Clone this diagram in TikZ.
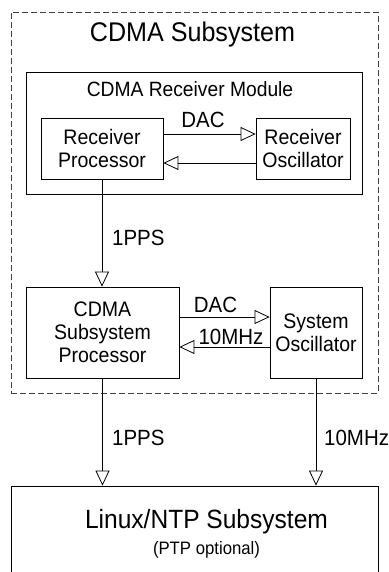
\documentclass[tikz,border=0pt]{standalone}
\usepackage{fontspec}
\setmainfont[FakeStretch=0.93]{Liberation Sans}
\usetikzlibrary{arrows.meta}
\begin{document}
\begin{tikzpicture}[x=1pt,y=-1pt,
  box/.style={draw, line width=0.8pt, inner sep=0pt, align=center, font=\fontsize{21}{23}\selectfont},
  arr/.style={-{Triangle[open,length=15pt,width=14pt]}, line width=0.8pt},
  lbl/.style={font=\fontsize{22}{24}\selectfont, inner sep=0pt, anchor=base}]
\useasboundingbox (0,0) rectangle (388,572);
\node[draw=black!75, dash pattern=on 6pt off 3pt, line width=0.8pt, minimum width=367pt, minimum height=381pt, inner sep=0pt] (outer) at (194.5,202.5) {};
\node[inner sep=0pt, anchor=base, font=\fontsize{27}{30}\selectfont] (title) at (192.5,41.5) {CDMA Subsystem};
\node[box, minimum width=336pt, minimum height=122pt] (module) at (194,133) {};
\node[inner sep=0pt, anchor=base, font=\fontsize{20.7}{23}\selectfont] (mtitle) at (190,97) {CDMA Receiver Module};
\node[box, minimum width=122pt, minimum height=61pt] (rp) at (102,148.5) {Receiver\\Processor};
\node[box, minimum width=94pt, minimum height=61pt] (ro) at (303,148.5) {Receiver\\Oscillator};
\node[box, minimum width=153pt, minimum height=91pt] (csp) at (102.5,332.5) {CDMA\\Subsystem\\Processor};
\node[box, minimum width=92pt, minimum height=91pt] (so) at (316,332.5) {System\\Oscillator};
\node[box, minimum width=367pt, minimum height=110pt] (linux) at (194.5,541) {};
\node[inner sep=0pt, anchor=base, font=\fontsize{26.4}{29}\selectfont] (ltitle) at (206.5,528) {Linux/NTP Subsystem};
\node[inner sep=0pt, anchor=base, font=\fontsize{18}{20}\selectfont] (lsub) at (206.5,554) {(PTP optional)};
\draw[arr] (rp.east |- 0,134) -- (ro.west |- 0,134);
\draw[arr] (ro.west |- 0,163) -- (rp.east |- 0,163);
\node[lbl] (dac1) at (203,128) {DAC};
\draw[arr] (rp.south) -- (rp.south |- csp.north);
\node[lbl, anchor=base west] (pps1) at (112,245) {1PPS};
\draw[arr] (csp.east |- 0,317) -- (so.west |- 0,317);
\draw[arr] (so.west |- 0,347) -- (csp.east |- 0,347);
\node[lbl] (dac2) at (215.5,312) {DAC};
\node[lbl] (mhz1) at (231,344) {10MHz};
\draw[arr] (csp.south) -- (csp.south |- linux.north);
\draw[arr] (so.south) -- (so.south |- linux.north);
\node[lbl, anchor=base west] (pps2) at (112,445) {1PPS};
\node[lbl, anchor=base west] (mhz2) at (324,445) {10MHz};
\end{tikzpicture}
\end{document}
